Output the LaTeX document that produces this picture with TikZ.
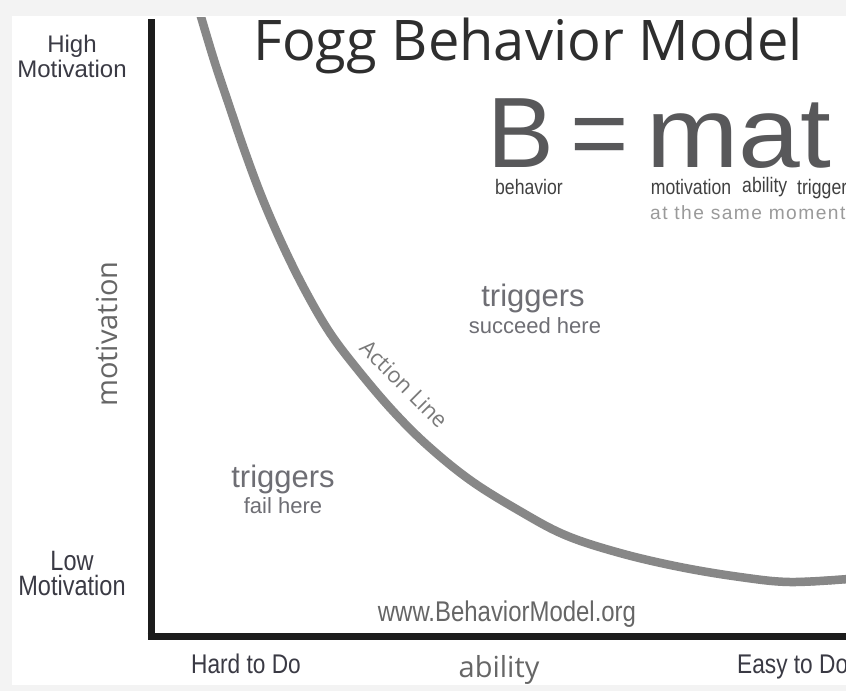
\documentclass[tikz,border=0pt]{standalone}
\usepackage{fontspec}
\setmainfont{Liberation Sans}
\newfontfamily\condfont[FakeStretch=0.84]{Liberation Sans}
\newfontfamily\widefont[FakeStretch=1.11]{Liberation Sans}
\newfontfamily\opensans{Open Sans}
\newfontfamily\spacedfont[LetterSpace=7.5]{Liberation Sans}

\definecolor{pagegray}{HTML}{F3F3F3}
\definecolor{axisblack}{HTML}{1C1C1C}
\definecolor{curvegray}{HTML}{878787}
\definecolor{titlegray}{HTML}{2E2E2E}
\definecolor{formulagray}{HTML}{58585A}
\definecolor{termgray}{HTML}{404040}
\definecolor{notegray}{HTML}{9A9A9A}
\definecolor{zonegray}{HTML}{6E6E74}
\definecolor{axislabel}{HTML}{666666}
\definecolor{endlabel}{HTML}{3A3A44}

\newcommand{\fsz}[1]{\fontsize{#1}{#1}\selectfont}

\begin{document}
\begin{tikzpicture}[x=1pt,y=-1pt,
  lbl/.style={inner sep=0pt, anchor=base},
  titletext/.style={lbl, text=titlegray, font=\opensans\fsz{56}},
  formula/.style={lbl, text=formulagray, font=\fsz{100}},
  term/.style={lbl, text=termgray, font=\condfont\fsz{21}},
  zonebig/.style={lbl, text=zonegray, font=\fsz{31}},
  zonesmall/.style={lbl, text=zonegray, font=\fsz{22}},
  levellabel/.style={lbl, text=endlabel},
  endtext/.style={lbl, text=endlabel, font=\condfont\fsz{27}},
  axisname/.style={lbl, text=axislabel, font=\opensans\fsz{29}},
  axisline/.style={draw=axisblack, line width=7pt},
  actioncurve/.style={draw=curvegray, line width=8.5pt, line cap=round},
  roughedge/.style={draw=curvegray, line width=2pt,
    dash pattern=on 2.5pt off 1.2pt on 1pt off 1.8pt on 3pt off 1pt}
]
\useasboundingbox (0,0) rectangle (846,691);
\clip (0,0) rectangle (846,691);

% page and panel
\fill[pagegray] (0,0) rectangle (846,691);
\fill[white] (12,16) rectangle (846,685);

% axes
\coordinate (ytop) at (151,19);
\coordinate (ybottom) at (151,639.5);
\coordinate (xstart) at (147.5,636);
\coordinate (xend) at (850,636);
\draw[axisline] (ytop) -- (ybottom);
\draw[axisline] (xstart) -- (xend);

% action line (hand-drawn chalky stroke), kept inside the panel
\def\actionpath{plot[smooth, tension=0.6] coordinates {
  (199,10) (214,60) (229,105) (245,152) (263,200) (284,248) (306,292)
  (330,333) (358,370) (392,410) (427,445) (470,480) (518,510) (565,535)
  (620,553) (680,567) (740,577) (790,582) (848,579)}}
\begin{scope}
  \clip (12,17) rectangle (846,685);
  \draw[actioncurve] \actionpath;
  \draw[roughedge, shift={(2.8,2.8)}] \actionpath;
  \draw[roughedge, shift={(-2.8,-2.8)}, dash phase=2pt] \actionpath;
\end{scope}

% title
\node[titletext] (title) at (528,60) {Fogg Behavior Model};

% formula
\node[formula] (fB) at (521,167) {B};
\node[formula] (feq) at (600,167) {=};
\node[formula, font=\widefont\fsz{100}] (fmat) at (739,167) {mat};
\node[term] (tb) at (529,194) {behavior};
\node[term] (tm) at (691,194) {motivation};
\node[term, anchor=base west] (ta) at (742,192) {ability};
\node[term, anchor=base west] (tt) at (797,194) {trigger};
\node[lbl, anchor=base west, text=notegray, font=\spacedfont\fsz{19.2}] (moment) at (650,219) {at the same moment};

% zone labels
\node[zonebig] (succ1) at (533,306) {triggers};
\node[zonesmall] (succ2) at (535,333) {succeed here};
\node[zonebig] (fail1) at (283,487) {triggers};
\node[zonesmall] (fail2) at (283,513) {fail here};

% label along the action line
\node[text=curvegray!90!black, font=\opensans\fsz{22}, rotate=-45, inner sep=0pt] (act) at (404,384) {Action Line};

% motivation axis
\node[levellabel, font=\fsz{24}] (hi1) at (72,52) {High};
\node[levellabel, font=\fsz{24}] (hi2) at (72,77) {Motivation};
\node[levellabel, font=\condfont\fsz{28}] (lo1) at (72,570) {Low};
\node[levellabel, font=\condfont\fsz{28}] (lo2) at (72,595) {Motivation};
\node[axisname, rotate=90, anchor=center] (mot) at (107,334) {motivation};

% ability axis
\node[endtext] (hard) at (246,673) {Hard to Do};
\node[axisname] (abil) at (499,677) {ability};
\node[endtext, anchor=base west] (easy) at (737,673) {Easy to Do};
\node[lbl, text=axislabel, font=\condfont\fsz{28.5}] (url) at (507,621) {www.BehaviorModel.org};
\end{tikzpicture}
\end{document}
